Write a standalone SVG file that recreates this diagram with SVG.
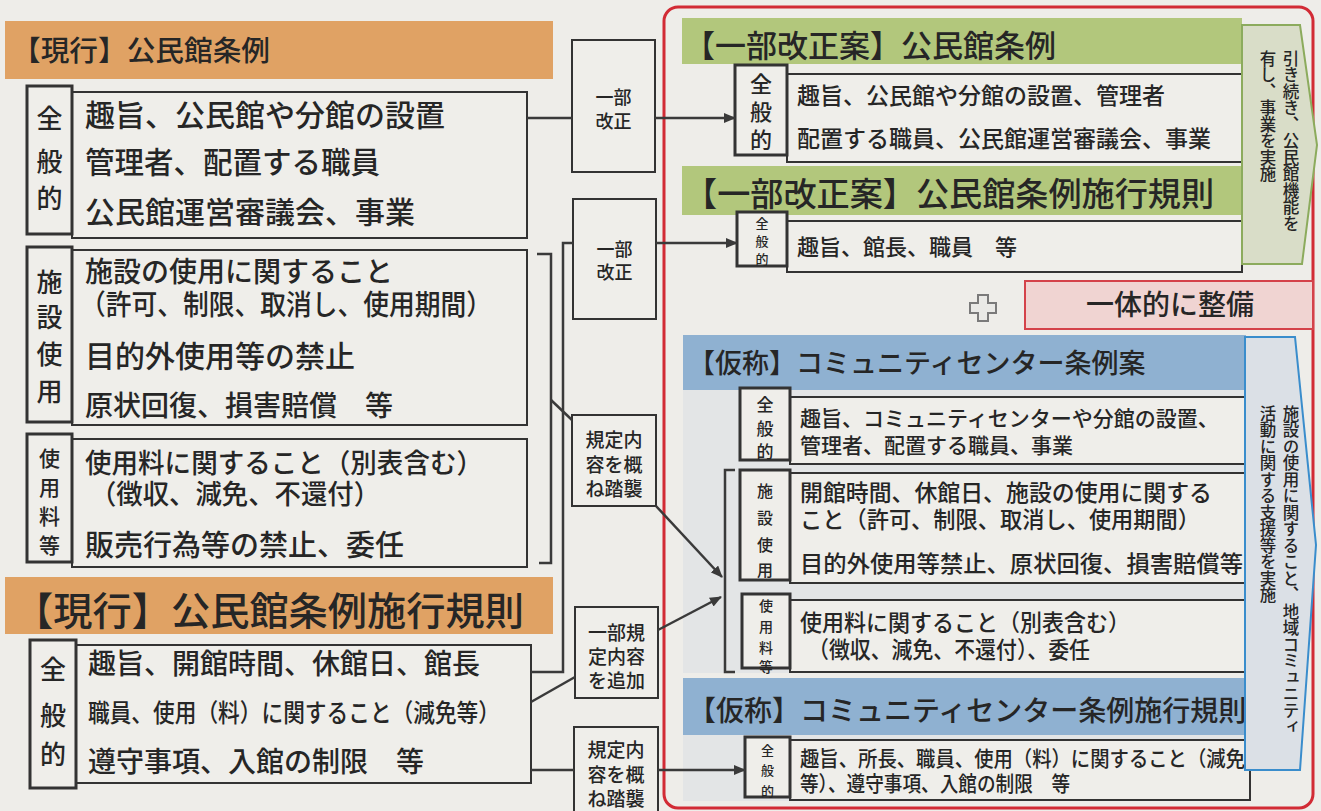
<svg xmlns="http://www.w3.org/2000/svg" width="1321" height="811" viewBox="0 0 1321 811">
<defs>
<style>
text{font-family:"Noto Sans CJK JP","Noto Sans CJK SC",sans-serif;fill:#262626;font-weight:500}
.bar-o{fill:#e0a264}
.bar-g{fill:#b2c77c}
.bar-b{fill:#8fb1d1}
.lbl{fill:#efeeea;stroke:#333;stroke-width:3}
.box{fill:#efeeea;stroke:#333;stroke-width:2}
.mid{fill:#efeeea;stroke:#333;stroke-width:2}
.t28{font-size:28px}
.t23{font-size:23px}
.t21{font-size:21px}
.mt{font-size:18px;text-anchor:middle}
.c{text-anchor:middle}
.ln{fill:none;stroke:#3a3a3a;stroke-width:2.5}
.vt{writing-mode:vertical-rl;font-size:16.5px}
</style>
<marker id="ah" viewBox="0 0 12 10" refX="11" refY="5" markerWidth="12" markerHeight="10" markerUnits="userSpaceOnUse" orient="auto">
<path d="M0,0 L12,5 L0,10 Z" fill="#3a3a3a"/>
</marker>
</defs>
<rect x="0" y="0" width="1321" height="811" fill="#eeede9"/>

<!-- Left: 現行 公民館条例 -->
<g id="current-ordinance">
<rect class="bar-o" x="5" y="21" width="548" height="58"/>
<text x="12" y="61" style="font-size:28px" textLength="258" lengthAdjust="spacingAndGlyphs">【現行】公民館条例</text>
</g>
<g id="cur-general">
<rect class="box" x="72" y="92" width="455" height="146"/>
<rect class="lbl" x="27" y="86" width="45" height="148"/>
<text class="c" style="font-size:26px"><tspan x="49.5" y="128">全</tspan><tspan x="49.5" y="171">般</tspan><tspan x="49.5" y="208">的</tspan></text>
<text x="85" y="126" style="font-size:30px">趣旨、公民館や分館の設置</text>
<text x="85" y="173" style="font-size:29.5px">管理者、配置する職員</text>
<text x="85" y="223" style="font-size:30px">公民館運営審議会、事業</text>
</g>
<g id="cur-facility">
<rect class="box" x="72" y="250" width="455" height="175"/>
<rect class="lbl" x="27" y="247" width="45" height="175"/>
<text class="c" style="font-size:26px"><tspan x="49.5" y="292">施</tspan><tspan x="49.5" y="327">設</tspan><tspan x="49.5" y="364">使</tspan><tspan x="49.5" y="401">用</tspan></text>
<text class="t28" x="85" y="282">施設の使用に関すること</text>
<text class="t28" x="80" y="315" textLength="412" lengthAdjust="spacingAndGlyphs">（許可、制限、取消し、使用期間）</text>
<text x="85" y="367" style="font-size:30px">目的外使用等の禁止</text>
<text class="t28" x="85" y="416">原状回復、損害賠償　等</text>
</g>
<g id="cur-fee">
<rect class="box" x="72" y="439" width="455" height="128"/>
<rect class="lbl" x="27" y="434" width="45" height="128"/>
<text class="c" style="font-size:21px"><tspan x="49.5" y="466">使</tspan><tspan x="49.5" y="495">用</tspan><tspan x="49.5" y="524">料</tspan><tspan x="49.5" y="553">等</tspan></text>
<text x="85" y="473" style="font-size:27px" textLength="398" lengthAdjust="spacingAndGlyphs">使用料に関すること（別表含む）</text>
<text x="90" y="504" style="font-size:27px" textLength="290" lengthAdjust="spacingAndGlyphs">（徴収、減免、不還付）</text>
<text x="85" y="556" style="font-size:29px">販売行為等の禁止、委任</text>
</g>

<!-- Left: 現行 施行規則 -->
<g id="current-rules">
<rect class="bar-o" x="5" y="577" width="548" height="57"/>
<text x="14" y="625" style="font-size:39px" textLength="510" lengthAdjust="spacingAndGlyphs">【現行】公民館条例施行規則</text>
</g>
<g id="cur-rules-general">
<rect class="box" x="76" y="645" width="455" height="138"/>
<rect class="lbl" x="30" y="640" width="46" height="148"/>
<text class="c" style="font-size:26px"><tspan x="53" y="679">全</tspan><tspan x="53" y="725">般</tspan><tspan x="53" y="764">的</tspan></text>
<text class="t28" x="88" y="674">趣旨、開館時間、休館日、館長</text>
<text x="88" y="722" style="font-size:25px" textLength="412" lengthAdjust="spacingAndGlyphs">職員、使用（料）に関すること（減免等）</text>
<text class="t28" x="88" y="772">遵守事項、入館の制限　等</text>
</g>

<!-- Middle boxes -->
<g id="mid-1">
<rect class="mid" x="572" y="40" width="83" height="132"/>
<text class="mt"><tspan x="613.5" y="104">一部</tspan><tspan x="613.5" y="128">改正</tspan></text>
</g>
<g id="mid-2">
<rect class="mid" x="573" y="199" width="83" height="120"/>
<text class="mt"><tspan x="614.5" y="256">一部</tspan><tspan x="614.5" y="279">改正</tspan></text>
</g>
<g id="mid-3">
<rect class="mid" x="572" y="415" width="84" height="91"/>
<text class="mt" style="font-size:19px"><tspan x="614" y="447">規定内</tspan><tspan x="614" y="472">容を概</tspan><tspan x="614" y="496">ね踏襲</tspan></text>
</g>
<g id="mid-4">
<rect class="mid" x="575" y="607" width="83" height="91"/>
<text class="mt" style="font-size:19px"><tspan x="616.5" y="640">一部規</tspan><tspan x="616.5" y="664">定内容</tspan><tspan x="616.5" y="688">を追加</tspan></text>
</g>
<g id="mid-5">
<rect class="mid" x="574" y="727" width="84" height="90"/>
<text class="mt" style="font-size:19px"><tspan x="616" y="757">規定内</tspan><tspan x="616" y="782">容を概</tspan><tspan x="616" y="806">ね踏襲</tspan></text>
</g>

<!-- Right frame -->
<rect x="664" y="7" width="649" height="801" rx="14" fill="none" stroke="#d22b35" stroke-width="3"/>

<g id="rev-ordinance">
<rect class="bar-g" x="682" y="18" width="560" height="46"/>
<text x="684" y="57" style="font-size:31px">【一部改正案】公民館条例</text>
<rect class="box" x="787" y="74" width="455" height="88"/>
<rect class="lbl" x="735" y="65" width="52" height="90"/>
<text class="c" style="font-size:22px"><tspan x="761" y="92">全</tspan><tspan x="761" y="120">般</tspan><tspan x="761" y="148">的</tspan></text>
<text class="t23" x="797" y="104">趣旨、公民館や分館の設置、管理者</text>
<text class="t23" x="797" y="147">配置する職員、公民館運営審議会、事業</text>
</g>
<g id="rev-rules">
<rect class="bar-g" x="682" y="166" width="560" height="49"/>
<text x="684" y="206" style="font-size:33px" textLength="530" lengthAdjust="spacingAndGlyphs">【一部改正案】公民館条例施行規則</text>
<rect class="box" x="787" y="221" width="455" height="51"/>
<rect class="lbl" x="737" y="212" width="50" height="54"/>
<text class="c" style="font-size:13px"><tspan x="762" y="228">全</tspan><tspan x="762" y="246">般</tspan><tspan x="762" y="264">的</tspan></text>
<text x="797" y="255" style="font-size:22px">趣旨、館長、職員　等</text>
</g>
<g id="continue-note">
<polygon points="1242,25 1300,25 1317,145 1302,264 1242,264" fill="#d9ddc8" stroke="#8cab5d" stroke-width="2"/>
<text class="vt" x="1291" y="50">引き続き、公民館機能を</text>
<text class="vt" x="1268" y="50">有し、事業を実施</text>
</g>

<g id="plus">
<polygon points="978,295 988,295 988,303 996,303 996,313 988,313 988,321 978,321 978,313 970,313 970,303 978,303" fill="#e9e9e6" stroke="#7a7a7a" stroke-width="2"/>
</g>
<g id="integrate">
<rect x="1025" y="281" width="288" height="48" fill="#f0d4d2" stroke="#d4424a" stroke-width="2"/>
<text x="1170" y="315" class="c" style="font-size:28px">一体的に整備</text>
</g>

<g id="cc-ordinance">
<rect x="683" y="388" width="563" height="285" fill="#e3e5e6"/>
<rect class="bar-b" x="683" y="335" width="563" height="55"/>
<text x="688" y="373" style="font-size:27px">【仮称】コミュニティセンター条例案</text>
<rect class="box" x="790" y="397" width="455" height="67"/>
<rect class="lbl" x="740" y="388" width="50" height="72"/>
<text class="c" style="font-size:17px"><tspan x="765" y="411">全</tspan><tspan x="765" y="435">般</tspan><tspan x="765" y="458">的</tspan></text>
<text class="t21" x="800" y="426">趣旨、コミュニティセンターや分館の設置、</text>
<text class="t21" x="800" y="453">管理者、配置する職員、事業</text>
</g>
<g id="cc-facility">
<rect class="box" x="790" y="473" width="455" height="110"/>
<rect class="lbl" x="740" y="470" width="50" height="110"/>
<text class="c" style="font-size:16px"><tspan x="765" y="497">施</tspan><tspan x="765" y="524">設</tspan><tspan x="765" y="551">使</tspan><tspan x="765" y="576">用</tspan></text>
<text class="t23" x="800" y="501" textLength="412" lengthAdjust="spacingAndGlyphs">開館時間、休館日、施設の使用に関する</text>
<text class="t23" x="800" y="528" textLength="400" lengthAdjust="spacingAndGlyphs">こと（許可、制限、取消し、使用期間）</text>
<text class="t23" x="800" y="572" textLength="443" lengthAdjust="spacingAndGlyphs">目的外使用等禁止、原状回復、損害賠償等</text>
</g>
<g id="cc-fee">
<rect class="box" x="790" y="600" width="455" height="72"/>
<rect class="lbl" x="742" y="594" width="48" height="74"/>
<text class="c" style="font-size:14px"><tspan x="766" y="611">使</tspan><tspan x="766" y="632">用</tspan><tspan x="766" y="653">料</tspan><tspan x="766" y="672">等</tspan></text>
<text class="t23" x="800" y="631" textLength="330" lengthAdjust="spacingAndGlyphs">使用料に関すること（別表含む）</text>
<text class="t23" x="808" y="658" textLength="282" lengthAdjust="spacingAndGlyphs">（徴収、減免、不還付）、委任</text>
</g>
<g id="cc-rules">
<rect class="bar-b" x="683" y="678" width="563" height="57"/>
<text x="688" y="721" style="font-size:28px">【仮称】コミュニティセンター条例施行規則</text>
<rect x="683" y="735" width="563" height="66" fill="#e3e5e6"/>
<rect class="box" x="790" y="740" width="460" height="60"/>
<rect class="lbl" x="745" y="737" width="45" height="60"/>
<text class="c" style="font-size:13px"><tspan x="767.5" y="755">全</tspan><tspan x="767.5" y="775">般</tspan><tspan x="767.5" y="796">的</tspan></text>
<text class="t21" x="800" y="766" textLength="445" lengthAdjust="spacingAndGlyphs">趣旨、所長、職員、使用（料）に関すること（減免</text>
<text class="t21" x="800" y="791" textLength="270" lengthAdjust="spacingAndGlyphs">等）、遵守事項、入館の制限　等</text>
</g>
<g id="support-note">
<polygon points="1245,337 1295,337 1316,545 1300,770 1245,770" fill="#dbe0e6" stroke="#3a8dcc" stroke-width="2"/>
<text class="vt" x="1291" y="405">施設の使用に関すること、地域コミュニティ</text>
<text class="vt" x="1268" y="405">活動に関する支援等を実施</text>
</g>

<!-- Connectors -->
<g id="connectors">
<line class="ln" x1="527" y1="118" x2="572" y2="118"/>
<line class="ln" x1="655" y1="118" x2="735" y2="118" marker-end="url(#ah)"/>
<polyline class="ln" points="531,672 563,672 563,243 573,243"/>
<line class="ln" x1="656" y1="243" x2="737" y2="243" marker-end="url(#ah)"/>
<polyline class="ln" points="537,254 551,254 551,563 539,563"/>
<line class="ln" x1="551" y1="400" x2="572" y2="420"/>
<line class="ln" x1="656" y1="506" x2="722" y2="577" marker-end="url(#ah)"/>
<line class="ln" x1="531" y1="702" x2="575" y2="677"/>
<line class="ln" x1="658" y1="630" x2="721" y2="597" marker-end="url(#ah)"/>
<polyline class="ln" points="735,470 725,470 725,672 735,672"/>
<line class="ln" x1="531" y1="770" x2="574" y2="770"/>
<line class="ln" x1="658" y1="770" x2="745" y2="770" marker-end="url(#ah)"/>
</g>
</svg>
